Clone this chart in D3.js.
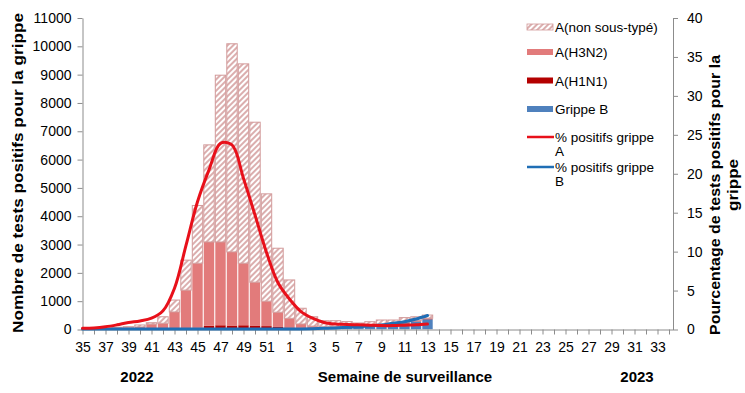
<!DOCTYPE html>
<html>
<head>
<meta charset="utf-8">
<script src="https://cdn.jsdelivr.net/npm/d3@7"></script>
<style>
  body { margin: 0; background: #fff; }
  svg { font-family: "Liberation Sans", Arial, sans-serif; }
</style>
</head>
<body>
<svg width="745" height="393"></svg>
<script>
// surveillance weeks 35 (2022) .. 34 (2023)
var weeks = ["35","36","37","38","39","40","41","42","43","44","45","46","47","48","49","50","51","52",
             "1","2","3","4","5","6","7","8","9","10","11","12","13","14","15","16","17",
             "18","19","20","21","22","23","24","25","26","27","28","29","30","31","32","33","34"];

// counts per week (weeks 35..13 have data)
var grippeB   = [20,10,10,10,10,10,10,10,10,10,15,20,20,20,20,20,20,20,
                 20,25,30,40,50,70,90,110,150,180,220,280,360];
var aH1N1     = [0,0,0,0,0,0,5,5,10,20,40,110,130,120,130,120,100,70,
                 50,30,20,15,10,10,10,10,10,10,10,10,10];
var aH3N2     = [10,10,20,30,50,80,175,205,600,1360,2285,2960,2940,2600,2190,1530,880,520,
                 325,140,70,40,40,40,30,30,30,30,30,30,30];
var aNonType  = [30,10,20,40,40,70,50,230,420,1060,2040,3430,5890,7350,7040,5650,3790,2260,
                 1355,555,330,215,210,160,100,125,145,115,160,130,110];

// percent positive
var pctA = [0.15,0.2,0.35,0.6,0.9,1.1,1.45,2.4,5.3,10.8,16.4,20.5,23.9,23.7,19.4,14.7,9.9,6.0,
            3.9,2.3,1.45,0.9,0.7,0.65,0.6,0.55,0.5,0.5,0.55,0.6,0.7];
var pctB = [0.05,0.05,0.05,0.05,0.05,0.05,0.05,0.05,0.05,0.05,0.05,0.05,0.05,0.05,0.05,0.05,0.05,0.05,
            0.05,0.07,0.1,0.15,0.2,0.28,0.36,0.46,0.58,0.8,1.0,1.35,1.8];

var leftTicks = d3.range(0, 11001, 1000);
var rightTicks = d3.range(0, 41, 5);

var colNon = "#d29a9a", colH3 = "#e27b7b", colH1 = "#b40000", colB = "#4f81bd";
var colLineA = "#e8101a", colLineB = "#1f6eb5", axisCol = "#8c8c8c";

var plotL = 82.5, plotR = 673, plotT = 18, plotB = 329.5;

var svg = d3.select("svg");

var defs = svg.append("defs");
var pat = defs.append("pattern")
  .attr("id", "hatch")
  .attr("patternUnits", "userSpaceOnUse")
  .attr("width", 4).attr("height", 4)
  .attr("patternTransform", "rotate(45)");
pat.append("rect").attr("width", 4).attr("height", 4).attr("fill", "#fff");
pat.append("line").attr("x1", 1).attr("y1", 0).attr("x2", 1).attr("y2", 4)
  .attr("stroke", colNon).attr("stroke-width", 1.6);
defs.append("clipPath").attr("id", "plotclip")
  .append("rect").attr("x", plotL).attr("y", 0).attr("width", plotR - plotL).attr("height", plotB);

var x = d3.scalePoint().domain(weeks).range([plotL, 669]);
var y = d3.scaleLinear().domain([0, 11000]).range([plotB, plotT]);
var y2 = d3.scaleLinear().domain([0, 40]).range([plotB, plotT]);

var rows = grippeB.map(function(v, i) {
  return {week: weeks[i], b: grippeB[i], h1: aH1N1[i], h3: aH3N2[i], non: aNonType[i]};
});
var keys = ["b", "h1", "h3", "non"];
var fills = {b: colB, h1: colH1, h3: colH3, non: "url(#hatch)"};
var stacked = d3.stack().keys(keys)(rows);
var bw = 10.4;

var bars = svg.append("g").attr("clip-path", "url(#plotclip)");
stacked.forEach(function(layer) {
  bars.selectAll(null)
    .data(layer)
    .enter().append("rect")
    .attr("x", function(d) { return x(d.data.week) - bw / 2; })
    .attr("y", function(d) { return y(d[1]); })
    .attr("width", bw)
    .attr("height", function(d) { return Math.max(0, y(d[0]) - y(d[1])); })
    .attr("fill", fills[layer.key])
    .attr("stroke", layer.key == "non" ? colNon : "none")
    .attr("stroke-width", 1);
});

// axes
var yAxis = svg.append("g")
  .attr("transform", "translate(" + plotL + ",0)")
  .call(d3.axisLeft(y).tickValues(leftTicks).tickFormat(d3.format("d"))
    .tickSize(5).tickSizeOuter(0).tickPadding(6));
var y2Axis = svg.append("g")
  .attr("transform", "translate(" + plotR + ",0)")
  .call(d3.axisRight(y2).tickValues(rightTicks).tickSize(5).tickSizeOuter(0).tickPadding(9));
var xAxis = svg.append("g")
  .attr("transform", "translate(0," + plotB + ")")
  .call(d3.axisBottom(x).tickSize(5).tickSizeOuter(0).tickPadding(8)
    .tickFormat(function(d, i) { return i % 2 == 0 ? d : ""; }));
xAxis.select(".domain").attr("d", "M" + plotL + ",0.5H" + plotR);

[yAxis, y2Axis, xAxis].forEach(function(g) {
  g.selectAll("path, line").attr("stroke", axisCol);
  g.selectAll("text").attr("fill", "#000").style("font-size", "14px")
    .style("font-family", "'Liberation Sans', Arial, sans-serif");
});

// lines
var pctLine = d3.line()
  .x(function(d, i) { return x(weeks[i]); })
  .y(function(d) { return y2(d); })
  .curve(d3.curveCatmullRom);

svg.append("path").datum(pctB)
  .attr("d", pctLine).attr("fill", "none")
  .attr("stroke", colLineB).attr("stroke-width", 3).attr("stroke-linecap", "round");
svg.append("path").datum(pctA)
  .attr("d", pctLine).attr("fill", "none")
  .attr("stroke", colLineA).attr("stroke-width", 3).attr("stroke-linecap", "round");

// axis titles (rotated ones are stretched like in the source image)
svg.append("text")
  .attr("transform", "translate(23,173) rotate(-90)")
  .attr("text-anchor", "middle")
  .attr("textLength", 320).attr("lengthAdjust", "spacingAndGlyphs")
  .style("font-size", "15px").style("font-weight", "bold")
  .text("Nombre de tests positifs pour la grippe");
svg.append("text")
  .attr("transform", "translate(720,195) rotate(-90)")
  .attr("text-anchor", "middle")
  .attr("textLength", 280).attr("lengthAdjust", "spacingAndGlyphs")
  .style("font-size", "15px").style("font-weight", "bold")
  .text("Pourcentage de tests positifs pour la");
svg.append("text")
  .attr("transform", "translate(738,185) rotate(-90)")
  .attr("text-anchor", "middle")
  .attr("textLength", 52).attr("lengthAdjust", "spacingAndGlyphs")
  .style("font-size", "15px").style("font-weight", "bold")
  .text("grippe");

svg.append("text").attr("x", 137).attr("y", 382).attr("text-anchor", "middle")
  .style("font-size", "15px").style("font-weight", "bold").text("2022");
svg.append("text").attr("x", 405).attr("y", 382).attr("text-anchor", "middle")
  .style("font-size", "15px").style("font-weight", "bold").text("Semaine de surveillance");
svg.append("text").attr("x", 637).attr("y", 382).attr("text-anchor", "middle")
  .style("font-size", "15px").style("font-weight", "bold").text("2023");

// legend
var legendItems = [
  {label: ["A(non sous-typé)"], fill: "url(#hatch)", stroke: colNon, y: 27},
  {label: ["A(H3N2)"], fill: colH3, y: 52},
  {label: ["A(H1N1)"], fill: colH1, y: 80.5},
  {label: ["Grippe B"], fill: colB, y: 109},
  {label: ["% positifs grippe", "A"], line: colLineA, y: 137},
  {label: ["% positifs grippe", "B"], line: colLineB, y: 167}
];
var lg = svg.append("g");
legendItems.forEach(function(it) {
  if (it.line) {
    lg.append("line").attr("x1", 527).attr("x2", 554).attr("y1", it.y).attr("y2", it.y)
      .attr("stroke", it.line).attr("stroke-width", 2.5);
  } else {
    lg.append("rect").attr("x", 527).attr("y", it.y - 3).attr("width", 26).attr("height", 6)
      .attr("fill", it.fill).attr("stroke", it.stroke || "none").attr("stroke-width", 0.8);
  }
  var t = lg.append("text").attr("x", 555).attr("y", it.y + 5).style("font-size", "13.5px");
  it.label.forEach(function(s, k) {
    t.append("tspan").attr("x", 555).attr("dy", k == 0 ? 0 : 13.5).text(s);
  });
});
</script>
</body>
</html>
